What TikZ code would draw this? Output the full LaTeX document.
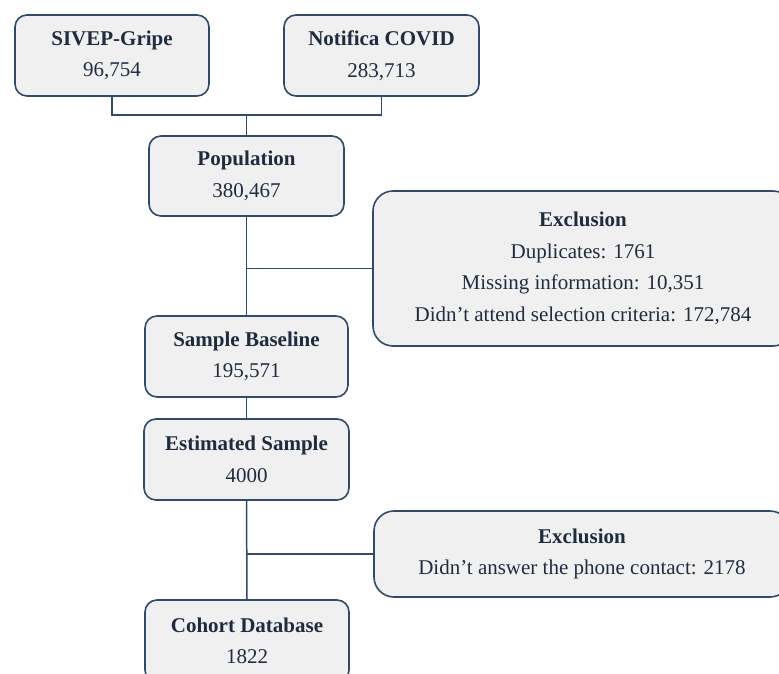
\documentclass[tikz,border=0pt]{standalone}
\usepackage{fontspec}
\setmainfont{Liberation Serif}
\definecolor{bord}{HTML}{2F4A6A}
\definecolor{boxfill}{HTML}{F0F0F0}
\definecolor{txt}{HTML}{1F2C40}
\tikzset{
  box/.style={draw=bord, fill=boxfill, line width=1.6pt, rounded corners=12pt,
    align=center, inner sep=0pt, text=txt, font=\fontsize{21}{31.5}\selectfont},
  exbox/.style={box, rounded corners=20pt},
  conn/.style={draw=bord, line width=1.5pt}
}
\newcommand{\ttl}[1]{\textbf{#1}}
\begin{document}
\begin{tikzpicture}[x=1pt,y=-1pt]
\useasboundingbox (0,0) rectangle (779,673);
\clip (0,0) rectangle (779,673);
\node[box, minimum width=194pt, minimum height=81pt] (sivep) at (112,55.5) {\ttl{SIVEP-Gripe}\\96,754};
\node[box, minimum width=195pt, minimum height=81pt] (notif) at (381.5,55.5) {\ttl{Notifica COVID}\\283,713};
\node[box, minimum width=195pt, minimum height=80pt] (pop) at (246.5,176) {\ttl{Population}\\380,467};
\node[exbox, minimum width=420pt, minimum height=155pt] (ex1) at (583,268.5) {\ttl{Exclusion}\\Duplicates: 1761\\Missing information: 10,351\\Didn't attend selection criteria: 172,784};
\node[box, minimum width=203pt, minimum height=81pt] (base) at (246.5,356.5) {\ttl{Sample Baseline}\\195,571};
\node[box, minimum width=205pt, minimum height=81pt] (est) at (246.5,459.5) {\ttl{Estimated Sample}\\4000};
\node[exbox, minimum width=416pt, minimum height=86pt] (ex2) at (582,554) {\ttl{Exclusion}\\Didn't answer the phone contact: 2178};
\node[box, minimum width=204pt, minimum height=82pt] (coh) at (247,641) {\ttl{Cohort Database}\\1822};
\coordinate (j1) at (246.5,115);
\draw[conn] (sivep.south) |- (j1) -| (notif.south);
\draw[conn] (j1) -- (pop.north);
\draw[conn] (pop.south) -- (base.north);
\coordinate (j2) at (pop.south |- ex1.west);
\draw[conn] (j2) -- (ex1.west);
\draw[conn] (base.south) -- (est.north);
\draw[conn] (est.south) -- (coh.north);
\coordinate (j3) at (est.south |- ex2.west);
\draw[conn] (j3) -- (ex2.west);
\end{tikzpicture}
\end{document}
